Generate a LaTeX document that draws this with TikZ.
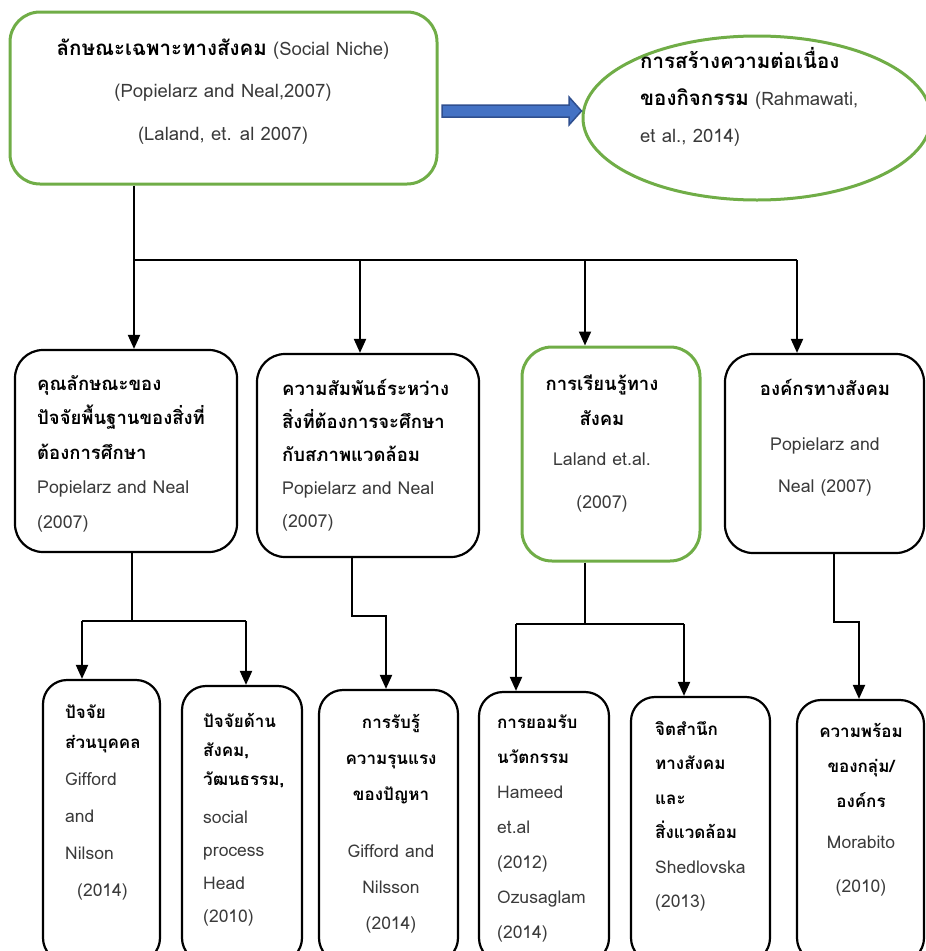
\documentclass[tikz,border=0pt]{standalone}
\usepackage{fontspec}
\setmainfont[Script=Thai]{Loma}
\usetikzlibrary{arrows.meta,calc,shapes.geometric}
\definecolor{ggreen}{HTML}{70AD47}
\definecolor{ablue}{HTML}{4472C4}
\definecolor{adark}{HTML}{2F4F8F}
\definecolor{ltxt}{HTML}{3A3A3A}
\newcommand{\fl}{\rule{0pt}{22pt}}
\newcommand{\lt}[1]{{\mdseries\color{ltxt}#1}}
\newcommand{\tb}[2]{{\fontsize{#1}{10}\selectfont\bfseries #2}}
\begin{document}
\begin{tikzpicture}[x=1pt,y=-1pt,
  box/.style={draw, line width=2.2pt, rounded corners=28pt, inner sep=0pt},
  gbox/.style={draw=ggreen, line width=3pt, rounded corners=30pt, inner sep=0pt},
  txt/.style={inner sep=0pt, anchor=north west, align=left},
  ctxt/.style={inner sep=0pt, anchor=north, align=center},
  conn/.style={line width=2pt},
  arr/.style={line width=2pt, -{Triangle[width=12pt,length=14pt]}},
]
\useasboundingbox (0,0) rectangle (926,951);
\clip (0,0) rectangle (926,951);

% top level
\node[gbox, minimum width=427pt, minimum height=172pt] (t0) at (223.5,98) {};
\node[ctxt, font=\fontsize{18.5}{42.5}\selectfont] (t0t) at (223,33)
  {\fl\tb{20.5}{ลักษณะเฉพาะทางสังคม} \lt{(Social Niche)}\\
   \lt{(Popielarz and Neal,2007)}\\
   \lt{(Laland, et. al 2007)}};

\node[draw=ggreen, line width=3pt, ellipse, minimum width=348pt, minimum height=164pt, inner sep=0pt] (e0) at (757,118) {};
\node[txt, font=\fontsize{18.5}{37}\selectfont] (e0t) at (640,46)
  {\fl\tb{20.5}{การสร้างความต่อเนื่อง}\\
   \tb{20.5}{ของกิจกรรม} \lt{(Rahmawati,}\\
   \lt{et al., 2014)}};

\draw[fill=ablue, draw=adark, line width=1.5pt, line join=miter]
  (442,105) -- (569,105) -- (569,97) -- (e0.west |- 0,111) -- (569,125) -- (569,117) -- (442,117) -- cycle;

% middle level
\node[box, minimum width=222pt, minimum height=202pt] (m1) at (126,451) {};
\node[txt, font=\fontsize{17.75}{34.5}\selectfont] (m1t) at (37,368)
  {\fl\tb{18.5}{คุณลักษณะของ}\\
   \tb{18.5}{ปัจจัยพื้นฐานของสิ่งที่}\\
   \tb{18.5}{ต้องการศึกษา}\\
   \lt{Popielarz and Neal}\\
   \lt{(2007)}};

\node[box, minimum width=222pt, minimum height=203pt] (m2) at (368,455.5) {};
\node[txt, font=\fontsize{17.75}{33}\selectfont] (m2t) at (282,373)
  {\fl\tb{18.5}{ความสัมพันธ์ระหว่าง}\\
   \tb{18.5}{สิ่งที่ต้องการจะศึกษา}\\
   \tb{18.5}{กับสภาพแวดล้อม}\\
   \lt{Popielarz and Neal}\\
   \lt{(2007)}};

\node[gbox, minimum width=178pt, minimum height=214pt] (m3) at (611,454) {};
\node[ctxt, font=\fontsize{17.75}{35}\selectfont] (m3t) at (602,368)
  {\fl\tb{18.5}{การเรียนรู้ทาง}\\
   \tb{18.5}{สังคม}\\[5pt]
   \lt{Laland et.al.}\\[8pt]
   \lt{(2007)}};

\node[box, minimum width=199pt, minimum height=199pt] (m4) at (824.5,453.5) {};
\node[ctxt, font=\fontsize{17.75}{42}\selectfont] (m4t) at (825,373)
  {\fl\tb{18.5}{องค์กรทางสังคม}\\[13pt]
   \lt{Popielarz and}\\
   \lt{Neal (2007)}};

% bottom level
\node[box, rounded corners=24pt, minimum width=117pt, minimum height=282pt] (b1) at (101.5,821) {};
\node[txt, font=\fontsize{17.5}{37}\selectfont] (b1t) at (65,696)
  {\fl\tb{17}{ปัจจัย}\\[-7pt]
   \tb{17}{ส่วนบุคคล}\\
   \lt{Gifford}\\
   \lt{and}\\
   \lt{Nilson}\\
   \hspace*{12pt}\lt{(2014)}};

\node[box, rounded corners=24pt, minimum width=120pt, minimum height=276pt] (b2) at (242,824) {};
\node[txt, font=\fontsize{17.5}{33}\selectfont] (b2t) at (203,705)
  {\fl\tb{17}{ปัจจัยด้าน}\\[-4pt]
   \tb{17}{สังคม,}\\[-4pt]
   \tb{17}{วัฒนธรรม,}\\[5pt]
   \lt{social}\\
   \lt{process}\\
   \lt{Head}\\
   \lt{(2010)}};

\node[box, rounded corners=24pt, minimum width=139pt, minimum height=272pt] (b3) at (388.5,826) {};
\node[ctxt, font=\fontsize{17.5}{36}\selectfont] (b3t) at (391,706)
  {\fl\tb{17}{การรับรู้}\\
   \tb{17}{ความรุนแรง}\\
   \tb{17}{ของปัญหา}\\[21pt]
   \lt{Gifford and}\\
   \lt{Nilsson}\\
   \lt{(2014)}};

\node[box, rounded corners=24pt, minimum width=130pt, minimum height=270pt] (b4) at (544,827) {};
\node[txt, font=\fontsize{17.5}{35}\selectfont] (b4t) at (497,706)
  {\fl\tb{17}{การยอมรับ}\\
   \tb{17}{นวัตกรรม}\\
   \lt{Hameed}\\
   \lt{et.al}\\
   \lt{(2012)}\\
   \lt{Ozusaglam}\\
   \lt{(2014)}};

\node[box, rounded corners=24pt, minimum width=139pt, minimum height=265pt] (b5) at (700.5,829.5) {};
\node[txt, font=\fontsize{17.5}{34.5}\selectfont] (b5t) at (655,713)
  {\fl\tb{17}{จิตสำนึก}\\
   \tb{17}{ทางสังคม}\\
   \tb{17}{และ}\\
   \tb{17}{สิ่งแวดล้อม}\\
   \lt{Shedlovska}\\
   \lt{(2013)}};

\node[box, rounded corners=24pt, minimum width=127pt, minimum height=262pt] (b6) at (860.5,831) {};
\node[ctxt, font=\fontsize{17.5}{35}\selectfont] (b6t) at (861,715)
  {\fl\tb{17}{ความพร้อม}\\
   \tb{17}{ของกลุ่ม/}\\
   \tb{17}{องค์กร}\\[6pt]
   \lt{Morabito}\\[9pt]
   \lt{(2010)}};

% connectors top -> middle
\coordinate (j0) at (134,260);
\coordinate (j1) at (360,260);
\coordinate (j2) at (585,260);
\coordinate (j3) at (797,260);
\draw[conn] (t0.south -| j0) -- (j0);
\draw[conn] (j0) -- (j3);
\draw[arr] (j0) -- (j0 |- m1.north);
\draw[arr] (j1) -- (j1 |- m2.north);
\draw[arr] (j2) -- (j2 |- m3.north);
\draw[arr] (j3) -- (j3 |- m4.north);

% middle -> bottom
\coordinate (k1) at (132,621);
\coordinate (k1l) at (82,621);
\coordinate (k1r) at (246,621);
\draw[conn] (m1.south -| k1) -- (k1);
\draw[conn] (k1l) -- (k1r);
\draw[arr] (k1l) -- (k1l |- b1.north);
\draw[arr] (k1r) -- (k1r |- b2.north);

\coordinate (k2) at (352,616);
\coordinate (k2r) at (386,616);
\draw[arr] (m2.south -| k2) -- (k2) -- (k2r) -- (k2r |- b3.north);

\coordinate (k3) at (585,624);
\coordinate (k3l) at (516,624);
\coordinate (k3r) at (684,624);
\draw[conn] (m3.south -| k3) -- (k3);
\draw[conn] (k3l) -- (k3r);
\draw[arr] (k3l) -- (k3l |- b4.north);
\draw[arr] (k3r) -- (k3r |- b5.north);

\coordinate (k4) at (834,622);
\coordinate (k4r) at (859,622);
\draw[arr] (m4.south -| k4) -- (k4) -- (k4r) -- (k4r |- b6.north);
\end{tikzpicture}
\end{document}
